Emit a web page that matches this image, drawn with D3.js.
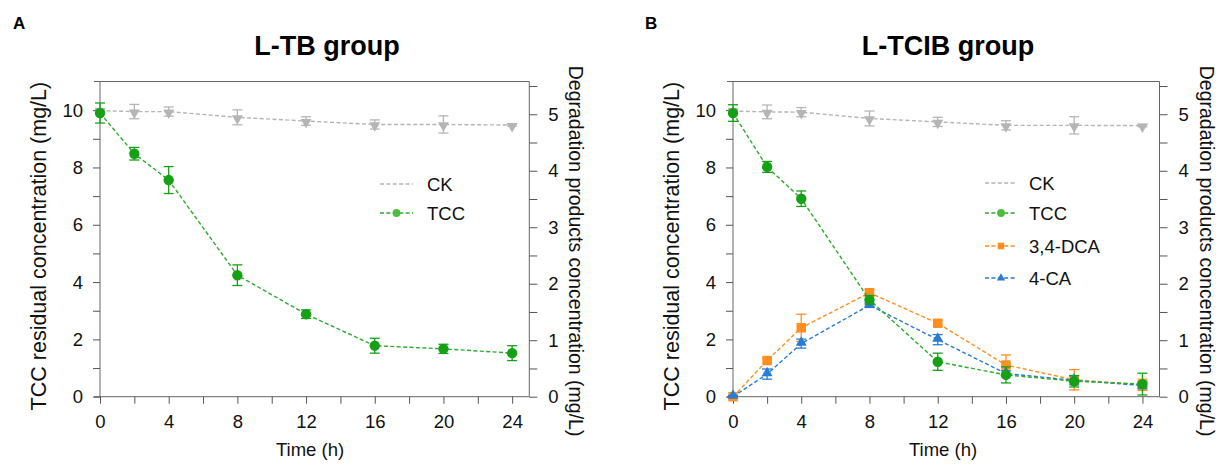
<!DOCTYPE html>
<html><head><meta charset="utf-8">
<script src="https://cdn.jsdelivr.net/npm/d3@7/dist/d3.min.js"></script>
<style>body{margin:0;background:#fff}svg{display:block;font-family:"Liberation Sans",Arial,sans-serif}</style>
</head><body>
<script>
// ---- data ----
const times = [0, 2, 4, 8, 12, 16, 20, 24];
const xTicks = [0, 4, 8, 12, 16, 20, 24];
const yLeftTicks = [0, 2, 4, 6, 8, 10];
const yRightTicks = [0, 1, 2, 3, 4, 5];

// Panel A (L-TB group)
const ckA      = [9.98, 9.95, 9.95, 9.75, 9.62, 9.5, 9.5, 9.48];
const ckAErr   = [0.08, 0.25, 0.16, 0.26, 0.15, 0.16, 0.3, 0.04];
const tccA     = [9.9, 8.48, 7.56, 4.24, 2.88, 1.78, 1.67, 1.52];
const tccAErr  = [0.35, 0.22, 0.47, 0.36, 0.15, 0.26, 0.16, 0.26];

// Panel B (L-TCIB group)
const ckB      = [9.97, 9.94, 9.93, 9.71, 9.59, 9.47, 9.47, 9.46];
const ckBErr   = [0.08, 0.24, 0.16, 0.26, 0.16, 0.16, 0.3, 0.04];
const tccB     = [9.9, 8.02, 6.91, 3.38, 1.22, 0.76, 0.54, 0.44];
const tccBErr  = [0.29, 0.19, 0.27, 0.15, 0.3, 0.28, 0.2, 0.38];
const dcaB     = [0.0, 0.64, 1.22, 1.84, 1.3, 0.56, 0.3, 0.21];   // right axis
const dcaBErr  = [0.02, 0.04, 0.24, 0.06, 0.05, 0.18, 0.18, 0.1];
const caB      = [0.0, 0.4, 0.94, 1.62, 1.01, 0.41, 0.29, 0.2];   // right axis
const caBErr   = [0.02, 0.09, 0.08, 0.04, 0.09, 0.05, 0.08, 0.06];

const C = {ck:"#b5b5b5", tccLine:"#2eaa2e", tcc:"#16a016", tccLeg:"#4cbd3c", dca:"#ff8e1e", ca:"#2a7bd4"};

const W = 1223, H = 465;
const svg = d3.select("body").append("svg").attr("width", W).attr("height", H);
const FONT = '"Liberation Sans",Arial,sans-serif';

const panels = [
  {letter:"A", title:"L-TB group", x0:100, x1:529.3, titleX:327, letterX:13, xlabelX:310,
   series:[
     {name:"CK", vals:ckA, err:ckAErr, axis:"L", color:C.ck, line:C.ck, sym:"tri-down", leg:false},
     {name:"TCC", vals:tccA, err:tccAErr, axis:"L", color:C.tcc, line:C.tccLine, sym:"circle", legColor:C.tccLeg}
   ],
   legend:{x0:380, x1:413, tx:427, ys:[184,213]}},
  {letter:"B", title:"L-TCIB group", x0:733, x1:1159.5, titleX:948, letterX:645, xlabelX:943,
   series:[
     {name:"CK", vals:ckB, err:ckBErr, axis:"L", color:C.ck, line:C.ck, sym:"tri-down"},
     {name:"3,4-DCA", vals:dcaB, err:dcaBErr, axis:"R", color:C.dca, line:C.dca, sym:"square"},
     {name:"4-CA", vals:caB, err:caBErr, axis:"R", color:C.ca, line:C.ca, sym:"tri-up"},
     {name:"TCC", vals:tccB, err:tccBErr, axis:"L", color:C.tcc, line:C.tccLine, sym:"circle", legColor:C.tccLeg}
   ],
   legendOrder:["CK","TCC","3,4-DCA","4-CA"],
   legend:{x0:985, x1:1017, tx:1029, ys:[183,213,246,278]}}
];

const yTop = 81.5, yBot = 396.7;
const axisColor = "#555";

function symPath(type, size){
  if(type==="circle") return d3.symbol(d3.symbolCircle, size)();
  if(type==="square") return d3.symbol(d3.symbolSquare, size)();
  return d3.symbol(d3.symbolTriangle, size)();
}

panels.forEach(p => {
  const g = svg.append("g");
  const x = d3.scaleLinear().domain([0, 25]).range([p.x0, p.x1]);
  const yL = d3.scaleLinear().domain([0, 11]).range([yBot, yTop]);
  const yR = d3.scaleLinear().domain([0, 5.58]).range([yBot, yTop]);

  // letter + title
  g.append("text").attr("x", p.letterX).attr("y", 29).attr("font-size", 17).attr("font-weight", "bold").text(p.letter);
  g.append("text").attr("x", p.titleX).attr("y", 55).attr("text-anchor", "middle")
   .attr("font-size", 27).attr("font-weight", "bold").text(p.title);

  // frame lines
  const fr = g.append("g").attr("stroke", "#666").attr("stroke-width", 1).attr("fill", "none");
  fr.append("line").attr("x1", p.x0 - 6).attr("x2", p.x1).attr("y1", yTop).attr("y2", yTop);
  fr.append("line").attr("x1", p.x0 - 6).attr("x2", p.x1).attr("y1", yBot).attr("y2", yBot);
  fr.append("line").attr("x1", p.x0).attr("x2", p.x0).attr("y1", yTop).attr("y2", yBot);
  fr.append("line").attr("x1", p.x1).attr("x2", p.x1).attr("y1", yTop).attr("y2", yBot);

  // bottom axis
  const xAx = g.append("g").attr("transform", `translate(0,${yBot})`)
    .call(d3.axisBottom(x).tickValues(d3.range(0, 25, 2)).tickSize(7).tickPadding(7).tickFormat(d => xTicks.includes(d) ? d : ""));
  xAx.select(".domain").remove();
  xAx.selectAll("line").attr("stroke", axisColor);
  xAx.selectAll("text").attr("font-size", 18.5).attr("font-family", FONT).attr("fill", "#111").attr("dy", "0.95em");

  // left axis
  const lAx = g.append("g").attr("transform", `translate(${p.x0},0)`)
    .call(d3.axisLeft(yL).tickValues(d3.range(0, 11, 1)).tickSize(7).tickPadding(10).tickFormat(d => yLeftTicks.includes(d) ? d : ""));
  lAx.select(".domain").remove();
  lAx.selectAll("line").attr("stroke", axisColor);
  lAx.selectAll("text").attr("font-size", 18.5).attr("font-family", FONT).attr("fill", "#111");

  // right axis
  const rAx = g.append("g").attr("transform", `translate(${p.x1},0)`)
    .call(d3.axisRight(yR).tickValues(d3.range(0, 5.51, 0.5)).tickSize(8).tickPadding(11).tickFormat(d => yRightTicks.includes(d) ? d : ""));
  rAx.select(".domain").remove();
  rAx.selectAll("line").attr("stroke", axisColor);
  rAx.selectAll("text").attr("font-size", 18.5).attr("font-family", FONT).attr("fill", "#111");

  // axis titles
  g.append("text").attr("transform", `translate(${p.x0 - 54},${(yTop + yBot) / 2 + 7}) rotate(-90)`)
   .attr("text-anchor", "middle").attr("font-size", 21.5).attr("fill", "#111").text("TCC residual concentration (mg/L)");
  g.append("text").attr("transform", `translate(${p.x1 + 40},${(yTop + yBot) / 2 + 12}) rotate(90)`)
   .attr("text-anchor", "middle").attr("font-size", 19.5).attr("fill", "#111").text("Degradation products concentration (mg/L)");
  g.append("text").attr("x", p.xlabelX).attr("y", 456).attr("text-anchor", "middle")
   .attr("font-size", 18.5).attr("fill", "#111").text("Time (h)");

  // series
  p.series.forEach(s => {
    const y = s.axis === "L" ? yL : yR;
    const pts = times.map((t, i) => ({t, v: s.vals[i], e: s.err[i]}));
    const sg = g.append("g");
    sg.append("path").datum(pts)
      .attr("d", d3.line().x(d => x(d.t)).y(d => y(d.v)))
      .attr("fill", "none").attr("stroke", s.line).attr("stroke-width", 1.4).attr("stroke-dasharray", "4,2.4");
    const eb = sg.append("g").attr("stroke", s.color).attr("stroke-width", 1.3);
    pts.forEach(d => {
      const cx = x(d.t), yt = y(d.v + d.e), yb = y(Math.max(0, d.v - d.e));
      eb.append("line").attr("x1", cx).attr("x2", cx).attr("y1", yt).attr("y2", yb);
      eb.append("line").attr("x1", cx - 5).attr("x2", cx + 5).attr("y1", yt).attr("y2", yt);
      eb.append("line").attr("x1", cx - 5).attr("x2", cx + 5).attr("y1", yb).attr("y2", yb);
    });
    const size = s.sym === "circle" ? 85 : s.sym === "square" ? 90 : 52;
    sg.selectAll("path.m").data(pts).enter().append("path").attr("class", "m")
      .attr("d", symPath(s.sym, size))
      .attr("transform", d => `translate(${x(d.t)},${y(d.v) + (s.sym === "tri-down" ? 1 : s.sym === "tri-up" ? -1 : 0)})` + (s.sym === "tri-down" ? " rotate(180)" : ""))
      .attr("fill", s.color);
  });

  // legend
  const order = p.legendOrder || p.series.map(s => s.name);
  order.forEach((nm, i) => {
    const s = p.series.find(q => q.name === nm);
    const ly = p.legend.ys[i];
    const lg = g.append("g");
    lg.append("line").attr("x1", p.legend.x0).attr("x2", p.legend.x1).attr("y1", ly).attr("y2", ly)
      .attr("stroke", s.line).attr("stroke-width", 1.4).attr("stroke-dasharray", "4,2.4");
    if (s.sym !== "tri-down") {
      const mx = (p.legend.x0 + p.legend.x1) / 2;
      lg.append("path").attr("d", symPath(s.sym, s.sym === "circle" ? 48 : s.sym === "square" ? 42 : 30))
        .attr("transform", `translate(${mx},${ly})`).attr("fill", s.legColor || s.color);
    }
    lg.append("text").attr("x", p.legend.tx).attr("y", ly).attr("dy", "0.36em")
      .attr("font-size", 18.5).attr("fill", "#111").text(nm);
  });
});
</script>
</body></html>
